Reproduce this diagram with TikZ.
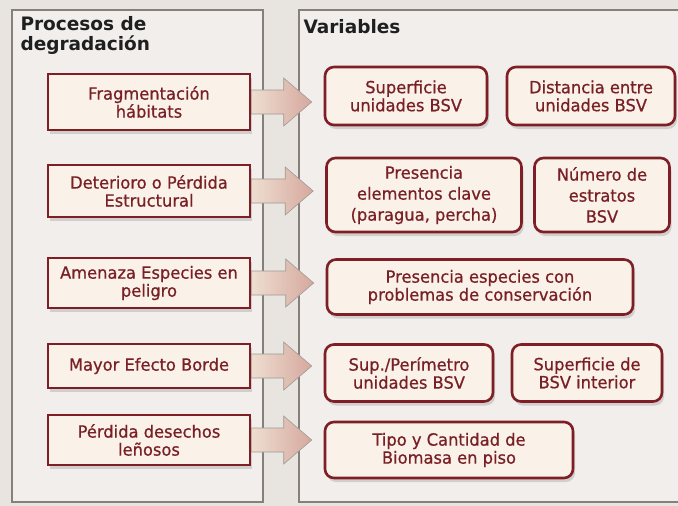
\documentclass[tikz,border=0pt]{standalone}
\usepackage{fontspec}
\setmainfont{DejaVu Sans}
\newfontfamily\cajafont{DejaVu Sans}[FakeBold=0.7, FakeStretch=0.97]
\usepackage{xcolor}
\usetikzlibrary{calc, shadows}

\definecolor{fondo}{RGB}{232,228,224}
\definecolor{panel}{RGB}{241,238,235}
\definecolor{borde}{RGB}{135,128,122}
\definecolor{vino}{RGB}{128,30,38}
\definecolor{texto}{RGB}{120,32,38}
\definecolor{crema}{RGB}{250,242,232}
\definecolor{flechaizq}{RGB}{238,222,208}
\definecolor{flechader}{RGB}{214,168,158}

\tikzset{
  proceso/.style={rectangle, draw=vino, line width=2.6pt, fill=crema,
    text=texto, align=center, font=\cajafont\fontsize{16.8}{18}\selectfont,
    inner sep=2pt, drop shadow={shadow xshift=2pt, shadow yshift=-4pt, fill=black!30}},
  varcaja/.style={proceso, rounded corners=9pt},
  flechabloque/.style={draw=borde!80, line width=0.6pt, left color=flechaizq, right color=flechader},
  titulo/.style={anchor=north west, align=left, font=\fontsize{18.5}{20}\selectfont\bfseries, text=black!88}
}

\newcommand{\flecha}[2]{%
  \path (#1.east) coordinate (fa) ($(#2.west |- #1.east)+(-12,0)$) coordinate (fb);
  \draw[flechabloque] ($(fa)+(0,-12)$) -- ($(fb)+(-28,-12)$) -- ($(fb)+(-28,-24)$) -- (fb)
    -- ($(fb)+(-28,24)$) -- ($(fb)+(-28,12)$) -- ($(fa)+(0,12)$) -- cycle;}

\begin{document}
\begin{tikzpicture}[x=1pt, y=-1pt]
    \useasboundingbox (0,0) rectangle (678,506);
    \fill[fondo] (0,0) rectangle (678,506);

    % Panels
    \draw[borde, line width=1.4pt, fill=panel] (12,10) rectangle (263,502);
    \draw[borde, line width=1.4pt, fill=panel] (299,10) rectangle (690,502);
    \node[titulo] (tproc) at (17,13) {Procesos de\\degradación};
    \node[titulo] (tvar) at (300,16) {Variables};

    % Degradation processes
    \node[proceso, minimum width=202, minimum height=56] (frag) at (149,102) {Fragmentación\\hábitats};
    \node[proceso, minimum width=202, minimum height=52] (det) at (149,191) {Deterioro o Pérdida\\Estructural};
    \node[proceso, minimum width=202, minimum height=50] (amen) at (149,283) {Amenaza Especies en\\peligro};
    \node[proceso, minimum width=202, minimum height=44] (efbor) at (149,366) {Mayor Efecto Borde};
    \node[proceso, minimum width=202, minimum height=50] (lena) at (149,440) {Pérdida desechos\\leñosos};

    % Variables
    \node[varcaja, minimum width=162, minimum height=58] (sup) at (406,96) {Superficie\\unidades BSV};
    \node[varcaja, minimum width=168, minimum height=58] (dist) at (591,96) {Distancia entre\\unidades BSV};
    \node[varcaja, minimum width=195, minimum height=74, font=\cajafont\fontsize{16.8}{21}\selectfont] (pres) at (424,195) {Presencia\\elementos clave\\(paragua, percha)};
    \node[varcaja, minimum width=135, minimum height=74, font=\cajafont\fontsize{16.8}{21}\selectfont] (num) at (602,195) {Número de\\estratos\\BSV};
    \node[varcaja, minimum width=306, minimum height=55] (esp) at (480,287) {Presencia especies con\\problemas de conservación};
    \node[varcaja, minimum width=168, minimum height=57] (per) at (409,373) {Sup./Perímetro\\unidades BSV};
    \node[varcaja, minimum width=150, minimum height=57] (int) at (587,373) {Superficie de\\BSV interior};
    \node[varcaja, minimum width=248, minimum height=56] (bio) at (449,450) {Tipo y Cantidad de\\Biomasa en piso};

    % Block arrows
    \flecha{frag}{sup}
    \flecha{det}{pres}
    \flecha{amen}{esp}
    \flecha{efbor}{per}
    \flecha{lena}{bio}
\end{tikzpicture}
\end{document}
